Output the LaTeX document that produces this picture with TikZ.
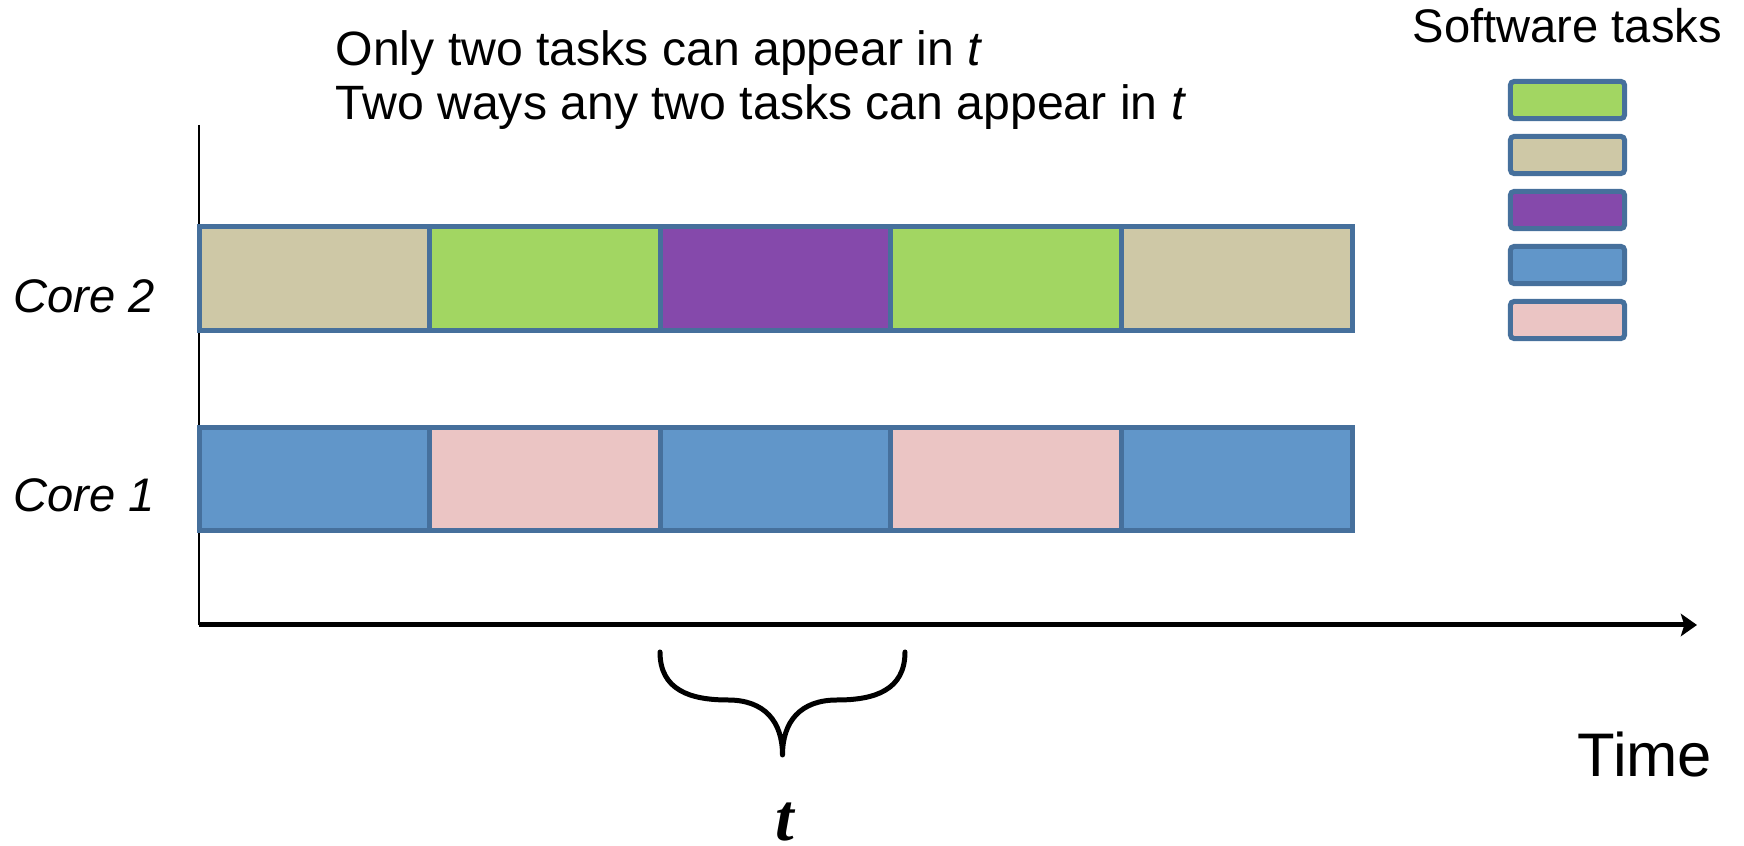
\documentclass[tikz,border=0pt]{standalone}
\usepackage{fontspec}
\setmainfont{Liberation Sans}
\newfontfamily\tfont{Liberation Serif}
\usetikzlibrary{arrows.meta}
\definecolor{ctan}{HTML}{CEC8A6}
\definecolor{cgreen}{HTML}{A2D662}
\definecolor{cpurple}{HTML}{8549AB}
\definecolor{cblue}{HTML}{6196C9}
\definecolor{cpink}{HTML}{EBC5C4}
\definecolor{cborder}{HTML}{46709C}
\tikzset{
  cell/.style={draw=cborder, line width=1.42pt, minimum width=2.305cm, minimum height=1.035cm, inner sep=0pt, outer sep=0pt},
  legbox/.style={draw=cborder, line width=1.42pt, rounded corners=1pt, minimum width=1.14cm, minimum height=0.37cm, inner sep=0pt},
  lbl/.style={inner sep=0pt, anchor=base west, font=\fontsize{13.4}{16}\selectfont},
}
\begin{document}
\begin{tikzpicture}[x=0.01cm, y=-0.01cm]
\useasboundingbox (0,0) rectangle (1744,846);
% axes
\coordinate (vtop) at (199,125);
\coordinate (o) at (199,625);
\coordinate (xend) at (1697,625);
\draw[line width=0.45pt] (vtop) -- (o);
\draw[line width=1.42pt, -{Stealth[length=4.6pt,width=6.4pt,inset=1pt]}] (o) -- (xend);
% core 2
\node[cell, fill=ctan]    (c2a) at (314.75,278.5) {};
\node[cell, fill=cgreen]  (c2b) at (545.25,278.5) {};
\node[cell, fill=cpurple] (c2c) at (775.75,278.5) {};
\node[cell, fill=cgreen]  (c2d) at (1006.25,278.5) {};
\node[cell, fill=ctan]    (c2e) at (1236.75,278.5) {};
% core 1
\node[cell, fill=cblue] (c1a) at (314.75,479) {};
\node[cell, fill=cpink] (c1b) at (545.25,479) {};
\node[cell, fill=cblue] (c1c) at (775.75,479) {};
\node[cell, fill=cpink] (c1d) at (1006.25,479) {};
\node[cell, fill=cblue] (c1e) at (1236.75,479) {};
% labels
\node[lbl, font=\fontsize{13.4}{16}\selectfont\itshape] (l2) at (13,313) {Core 2};
\node[lbl, font=\fontsize{13.4}{16}\selectfont\itshape] (l1) at (13,512) {Core 1};
\node[lbl, font=\fontsize{13.7}{16}\selectfont] (txt1) at (335,66) {Only two tasks can appear in \textit{t}};
\node[lbl, font=\fontsize{13.7}{16}\selectfont] (txt2) at (335,120) {Two ways any two tasks can appear in \textit{t}};
\node[lbl] (sw) at (1412,43) {Software tasks};
\node[lbl, font=\fontsize{17.5}{20}\selectfont] (time) at (1577,777) {Time};
% legend
\node[legbox, fill=cgreen]  (g1) at (1567.5,100) {};
\node[legbox, fill=ctan]    (g2) at (1567.5,155) {};
\node[legbox, fill=cpurple] (g3) at (1567.5,210) {};
\node[legbox, fill=cblue]   (g4) at (1567.5,265) {};
\node[legbox, fill=cpink]   (g5) at (1567.5,320) {};
% brace
\coordinate (bl) at (660,652);
\coordinate (bm) at (782.5,755);
\coordinate (br) at (905,652);
\draw[line width=1.42pt, line cap=round, line join=round]
  (bl) .. controls (660,690) and (690,700) .. (728,700)
       .. controls (765,700) and (782.5,722) .. (bm)
       .. controls (782.5,722) and (800,700) .. (837,700)
       .. controls (875,700) and (905,690) .. (br);
\node[inner sep=0pt, anchor=base, font=\tfont\bfseries\itshape\fontsize{19}{22}\selectfont] (tt) at (785,841) {t};
\end{tikzpicture}
\end{document}
